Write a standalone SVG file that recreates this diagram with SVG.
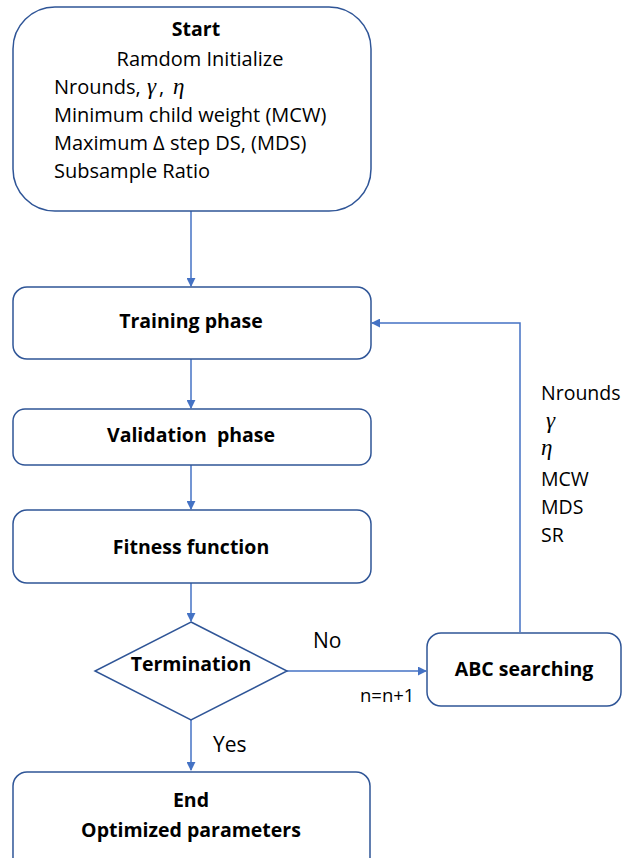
<svg xmlns="http://www.w3.org/2000/svg" width="623" height="858" viewBox="0 0 623 858">
<defs>
<style>
.box{fill:#fff;stroke:#2F5597;stroke-width:1.5}
.ln{fill:none;stroke:#4472C4;stroke-width:1.5}
.t{font-family:"Open Sans","Liberation Sans",sans-serif;font-size:20px;fill:#000}
.b{font-weight:bold;font-size:19.5px}
.m{font-family:"Liberation Serif",serif;font-style:italic;font-size:23px}
</style>
<marker id="ah" viewBox="0 0 10 10" refX="9" refY="5" markerWidth="9" markerHeight="9" markerUnits="userSpaceOnUse" orient="auto">
<path d="M0,0 L10,5 L0,10 z" fill="#4472C4"/>
</marker>
</defs>
<rect width="623" height="858" fill="#fff"/>
<g id="connectors">
<line class="ln" x1="191" y1="211" x2="191" y2="286" marker-end="url(#ah)"/>
<line class="ln" x1="191" y1="359" x2="191" y2="408" marker-end="url(#ah)"/>
<line class="ln" x1="191" y1="465" x2="191" y2="509" marker-end="url(#ah)"/>
<line class="ln" x1="191" y1="583" x2="191" y2="621" marker-end="url(#ah)"/>
<line class="ln" x1="287" y1="671" x2="426" y2="671" marker-end="url(#ah)"/>
<line class="ln" x1="191" y1="720" x2="191" y2="770" marker-end="url(#ah)"/>
<polyline class="ln" points="520,632 520,323 372,323" marker-end="url(#ah)"/>
<text class="t" x="313" y="648" style="font-size:21px">No</text>
<text class="t" x="360" y="702" style="font-size:18.5px">n=n+1</text>
<text class="t" x="213" y="752" style="font-size:21px">Yes</text>
<text class="t" x="541" y="400" style="font-size:19.5px">Nrounds</text>
<text class="m" x="546" y="428">γ</text>
<text class="m" x="541" y="455">η</text>
<text class="t" x="541" y="486" style="font-size:19.5px">MCW</text>
<text class="t" x="541" y="514" style="font-size:19.5px">MDS</text>
<text class="t" x="541" y="542" style="font-size:19.5px">SR</text>
</g>
<g id="start">
<rect class="box" x="13" y="7" width="358" height="204" rx="42"/>
<text class="t b" x="196" y="36" text-anchor="middle">Start</text>
<text class="t" x="200" y="66" text-anchor="middle">Ramdom Initialize</text>
<text class="t" x="54" y="94">Nrounds,<tspan class="m" x="147">γ</tspan><tspan x="159">,</tspan><tspan class="m" x="173">η</tspan></text>
<text class="t" x="54" y="122">Minimum child weight (MCW)</text>
<text class="t" x="54" y="150">Maximum Δ step DS, (MDS)</text>
<text class="t" x="54" y="178">Subsample Ratio</text>
</g>
<g id="training">
<rect class="box" x="13" y="287" width="358" height="72" rx="14"/>
<text class="t b" x="191" y="328" text-anchor="middle">Training phase</text>
</g>
<g id="validation">
<rect class="box" x="13" y="409" width="358" height="56" rx="12"/>
<text class="t b" x="191" y="442" text-anchor="middle">Validation&#160; phase</text>
</g>
<g id="fitness">
<rect class="box" x="13" y="510" width="358" height="73" rx="14"/>
<text class="t b" x="191" y="554" text-anchor="middle">Fitness function</text>
</g>
<g id="termination">
<polygon class="box" points="191,622 287,671 191,720 95,671"/>
<text class="t b" x="191" y="671" text-anchor="middle">Termination</text>
</g>
<g id="abc">
<rect class="box" x="427" y="633" width="194" height="73" rx="14"/>
<text class="t b" x="524" y="676" text-anchor="middle">ABC searching</text>
</g>
<g id="end">
<rect class="box" x="13" y="772" width="357" height="100" rx="14"/>
<text class="t b" x="191" y="807" text-anchor="middle">End</text>
<text class="t b" x="191" y="837" text-anchor="middle">Optimized parameters</text>
</g>
</svg>
